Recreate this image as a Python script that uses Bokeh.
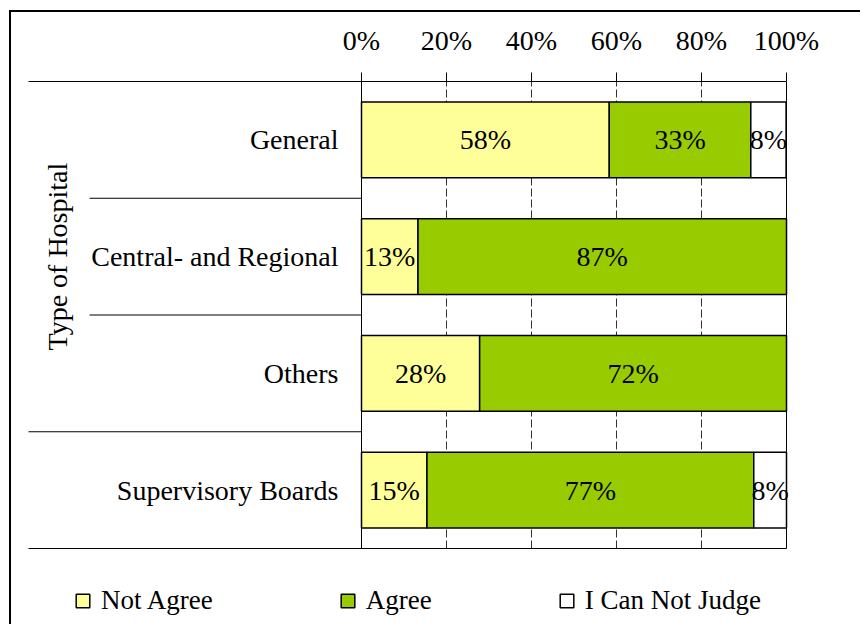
import math
from bokeh.plotting import figure
from bokeh.models import (Range1d, FixedTicker, PrintfTickFormatter, ColumnDataSource,
                          Legend, LegendItem)
from bokeh.core.properties import value
from bokeh.embed import file_html
from bokeh.resources import INLINE

# ---------------- data ----------------
categories = ["General", "Central- and Regional", "Others", "Supervisory Boards"]
groups = ["Type of Hospital", "Type of Hospital", "Type of Hospital", ""]
series_names = ["Not Agree", "Agree", "I Can Not Judge"]
not_agree = [58.3, 13.3, 27.8, 15.4]
agree = [33.3, 86.7, 72.2, 76.9]
cannot_judge = [8.3, 0.0, 0.0, 7.7]
series_colors = ["#FFFF99", "#99CC00", "#FFFFFF"]
tick_values = [0, 20, 40, 60, 80, 100]

# ---------------- layout (pixels) ----------------
FONT = "Liberation Serif"
FS = "28px"
CSS_B = 2                      # outer border width (css)
CSS_ML, CSS_MT = 9, 10         # css margins of the figure element
FIG_W, FIG_H = 851, 614
MB_L, MB_T, MB_R, MB_B = 0, 69, 0, 0
frame_w = FIG_W - MB_L - MB_R
frame_h = FIG_H - MB_T - MB_B
frame_left_page = CSS_ML + CSS_B + MB_L
frame_top_page = CSS_MT + CSS_B + MB_T
zero_page = 361                # page x of 0 %
px_per_pct = 4.25
px_per_cat = 116.75


def px2x(page_x):
    return (page_x - zero_page) / px_per_pct


n = len(categories)
x_start = px2x(frame_left_page)
x_end = px2x(frame_left_page + frame_w)
y_end = n
y_start = n - frame_h / px_per_cat

outer_x = px2x(28)
inner_x = px2x(89)
cat_label_x = px2x(338)
group_label_x = px2x(57)

p = figure(width=FIG_W, height=FIG_H,
           x_range=Range1d(x_start, x_end), y_range=Range1d(y_start, y_end),
           x_axis_location="above", y_axis_location=None,
           output_backend="svg", toolbar_location=None,
           min_border_left=MB_L, min_border_right=MB_R,
           min_border_top=MB_T, min_border_bottom=MB_B)
p.outline_line_color = None
p.xgrid.visible = False
p.ygrid.visible = False
p.background_fill_color = "white"
p.border_fill_color = "white"
p.styles = {"border-top": f"{CSS_B}px solid black", "border-left": f"{CSS_B}px solid black",
            "margin-left": f"{CSS_ML}px", "margin-top": f"{CSS_MT}px"}

ypos = [n - i - 0.5 for i in range(n)]

# ---------------- gridlines & frame lines ----------------
inner_ticks = [t for t in tick_values if t not in (tick_values[0], tick_values[-1])]
p.segment(x0=inner_ticks, y0=[0] * len(inner_ticks), x1=inner_ticks, y1=[n] * len(inner_ticks),
          line_color="#333333", line_width=1, line_dash="8 3")
p.segment(x0=[tick_values[0], tick_values[-1]], y0=[0, 0],
          x1=[tick_values[0], tick_values[-1]], y1=[n, n],
          line_color="black", line_width=1)

# separators between categories
sx0, sx1, sy = [], [], []
for i in range(n):
    yb = n - i - 1
    last = (i == n - 1)
    if last or groups[i] != groups[i + 1]:
        sx0.append(outer_x)
    else:
        sx0.append(inner_x)
    sx1.append(tick_values[-1] if last else tick_values[0])
    sy.append(yb)
p.segment(x0=sx0, y0=sy, x1=sx1, y1=sy, line_color="black", line_width=1)

# ---------------- bars ----------------
series_vals = [not_agree, agree, cannot_judge]
cum = [0.0] * n
renderers = []
lab_x, lab_y, lab_t = [], [], []
for vals, name, col in zip(series_vals, series_names, series_colors):
    left = cum[:]
    right = [l + v for l, v in zip(left, vals)]
    keep = [i for i in range(n) if vals[i] > 0]
    src = ColumnDataSource(dict(y=[ypos[i] for i in keep],
                                left=[left[i] for i in keep],
                                right=[right[i] for i in keep]))
    r = p.hbar(y="y", left="left", right="right", height=0.65, source=src,
               fill_color=col, line_color="black", line_width=1.5)
    renderers.append(r)
    for i in keep:
        lab_x.append((left[i] + right[i]) / 2)
        lab_y.append(ypos[i])
        lab_t.append(f"{round(vals[i])}%")
    cum = right

p.text(x=lab_x, y=lab_y, text=lab_t, text_align="center", text_baseline="middle",
       text_font=value(FONT), text_font_size=FS, text_color="black")

# category labels
p.text(x=[cat_label_x] * n, y=ypos, text=categories, text_align="right",
       text_baseline="middle", text_font=value(FONT), text_font_size=FS,
       text_color="black")

# group label
gnames = [g for g in dict.fromkeys(groups) if g]
gy = []
for g in gnames:
    ys = [ypos[i] for i in range(n) if groups[i] == g]
    gy.append(sum(ys) / len(ys))
p.text(x=[group_label_x] * len(gnames), y=gy, text=gnames, angle=math.pi / 2,
       text_align="center", text_baseline="middle", text_font=value(FONT),
       text_font_size=FS, text_color="black")

# ---------------- axis ----------------
ax = p.xaxis[0]
ax.ticker = FixedTicker(ticks=tick_values)
ax.formatter = PrintfTickFormatter(format="%d%%")
ax.bounds = (outer_x, tick_values[-1])
ax.axis_line_color = "black"
ax.axis_line_width = 1
ax.major_tick_line_color = "black"
ax.major_tick_out = 9
ax.major_tick_in = 0
ax.minor_tick_out = 0
ax.minor_tick_in = 0
ax.major_label_standoff = 17
ax.major_label_text_font = FONT
ax.major_label_text_font_size = FS
ax.major_label_text_color = "black"

# ---------------- legend ----------------
legend = Legend(items=[LegendItem(label=nm, renderers=[r]) for nm, r in zip(series_names, renderers)],
                orientation="horizontal", location=(63, 10), spacing=126,
                glyph_width=17, glyph_height=17, label_standoff=10,
                padding=0, margin=0, border_line_color=None, background_fill_alpha=0,
                label_text_font=FONT, label_text_font_size="27px", label_text_color="black")
p.add_layout(legend)

open("out.html", "w").write(file_html(p, INLINE))
